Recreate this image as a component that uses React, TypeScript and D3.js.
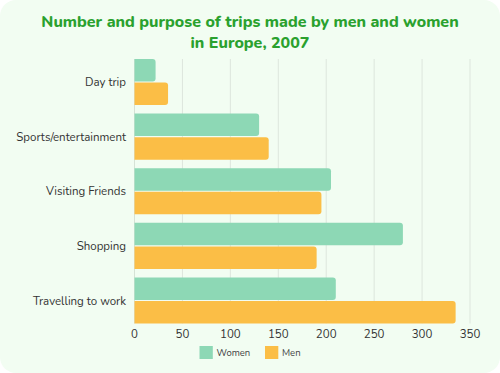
import React from "react";
import * as d3 from "d3";

const categories = ["Day trip", "Sports/entertainment", "Visiting Friends", "Shopping", "Travelling to work"];
const women = [22, 130, 205, 280, 210];
const men = [35, 140, 195, 190, 335];
const ticks = [0, 50, 100, 150, 200, 250, 300, 350];
const seriesNames = ["Women", "Men"];
const colors = ["#8dd8b5", "#fbbe46"];

const W = 500, H = 373;

function barPath(x0: number, x1: number, y: number, h: number, r: number) {
  const w = x1 - x0;
  const rr = Math.min(r, w / 2, h / 2);
  return `M${x0},${y}H${x1 - rr}Q${x1},${y} ${x1},${y + rr}V${y + h - rr}Q${x1},${y + h} ${x1 - rr},${y + h}H${x0}Z`;
}

export default function App() {
  const x = d3.scaleLinear().domain([0, 350]).range([134.5, 470]);
  const y = d3.scaleBand().domain(categories).range([59, 323.5]).paddingInner(0.157).paddingOuter(0);
  const inner = d3.scaleBand().domain(seriesNames).range([0, y.bandwidth()]).paddingInner(0.045);
  const data = [women, men];
  const font = "Nunito, 'Noto Sans', 'Open Sans', sans-serif";
  return (
    <svg width={W} height={H} style={{ position: "fixed", left: 0, top: 0, display: "block" }} fontFamily={font}>
      <rect x={0} y={0} width={W} height={H} fill="#ffffff" />
      <rect x={0} y={0} width={W} height={H} rx={16} fill="#f2fdf2" />
      <text x={250} y={27} textAnchor="middle" fontSize={16} fontWeight={800} fill="#2aa12e">
        Number and purpose of trips made by men and women
      </text>
      <text x={250} y={48} textAnchor="middle" fontSize={16} fontWeight={800} fill="#2aa12e">
        in Europe, 2007
      </text>
      {ticks.map((t) => (
        <g key={t}>
          <line x1={x(t)} x2={x(t)} y1={59} y2={323.5} stroke={t === 0 ? "#d6e2d6" : "#dde6dd"} strokeWidth={1} />
          <text x={x(t)} y={338} textAnchor="middle" fontSize={11.5} fill="#333">{t}</text>
        </g>
      ))}
      {categories.map((c, i) => (
        <g key={c}>
          {data.map((arr, s) => {
            const yy = (y(c) as number) + (inner(seriesNames[s]) as number);
            return <path key={s} d={barPath(x(0), x(arr[i]), yy, inner.bandwidth(), 3)} fill={colors[s]} />;
          })}
          <text x={126} y={(y(c) as number) + y.bandwidth() / 2} dy="0.35em" textAnchor="end" fontSize={11.5} fill="#333">{c}</text>
        </g>
      ))}
      {seriesNames.map((n, s) => {
        const lx = [199.5, 265][s];
        return (
          <g key={n}>
            <rect x={lx} y={346} width={13.3} height={13} fill={colors[s]} />
            <text x={lx + 17} y={352.5} dy="0.35em" fontSize={9.5} fill="#444">{n}</text>
          </g>
        );
      })}
    </svg>
  );
}
